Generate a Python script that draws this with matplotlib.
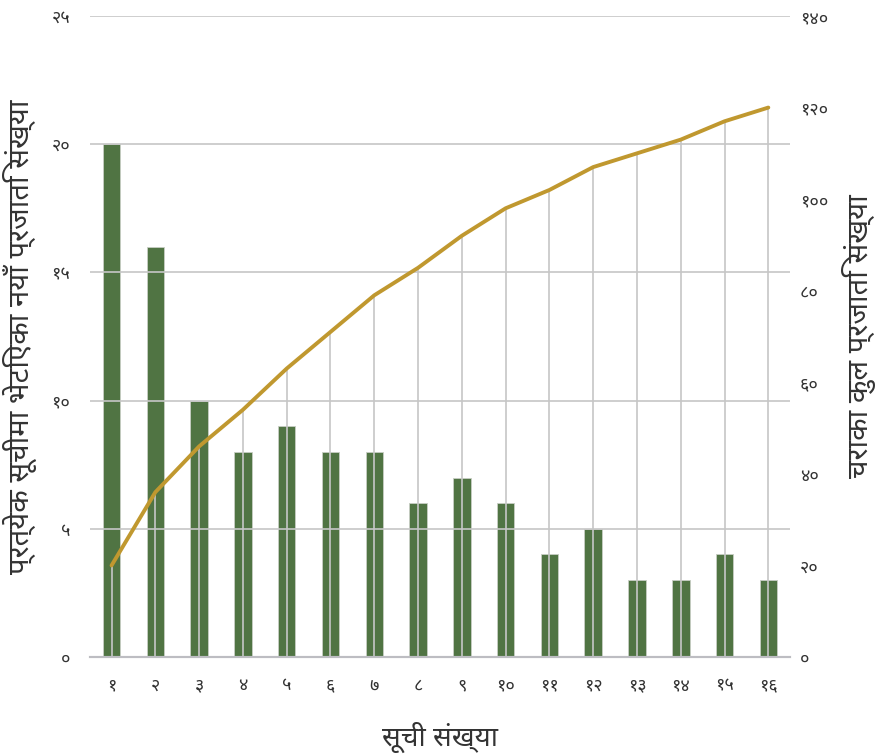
import matplotlib
matplotlib.use("Agg")
import matplotlib.pyplot as plt

# data
lists = list(range(1, 17))
new_species = [20, 16, 10, 8, 9, 8, 8, 6, 7, 6, 4, 5, 3, 3, 4, 3]
total_species = [20, 36, 46, 54, 63, 71, 79, 85, 92, 98, 102, 107, 110, 113, 117, 120]
left_ticks = [0, 5, 10, 15, 20, 25]
right_ticks = [0, 20, 40, 60, 80, 100, 120, 140]

xlabel = 'सूची संख्या'
ylabel_left = 'प्रत्येक सूचीमा भेटिएका नयाँ प्रजाति संख्या'
ylabel_right = 'चराका कुल प्रजाति संख्या'

DIGITS = '०१२३४५६७८९'


def deva(n):
    return ''.join(DIGITS[int(c)] for c in str(n))


plt.rcParams['font.family'] = ['Noto Sans Devanagari', 'DejaVu Sans']

bar_color = '#507443'
line_color = '#C0982F'
grid_color = '#C6C6C6'
text_color = '#333333'

fig = plt.figure(figsize=(8.79, 7.54), dpi=100)
ax = fig.add_axes([0.102, 0.1286, 0.797, 0.8502])
ax2 = ax.twinx()

ax.bar(lists, new_species, width=0.4, color=bar_color, edgecolor='#C8CEC4', linewidth=0.6, zorder=1)
ax.set_ylim(0, 25)
ax.set_yticks(left_ticks)
ax.set_yticklabels([deva(v) for v in left_ticks])
ax.set_xlim(0.5, 16.5)
ax.set_xticks(lists)
ax.set_xticklabels([deva(v) for v in lists])
ax.grid(axis='y', color=grid_color, linewidth=1.2, zorder=2)
ax.set_axisbelow(False)

ax2.vlines(lists, 0, total_species, color=grid_color, linewidth=1.2, zorder=2)
ax2.plot(lists, total_species, color=line_color, linewidth=2.8, solid_capstyle='round', zorder=3)
ax2.set_ylim(0, 140)
ax2.set_yticks(right_ticks)
ax2.set_yticklabels([deva(v) for v in right_ticks])

for a in (ax, ax2):
    for s in ('top', 'left', 'right'):
        a.spines[s].set_visible(False)
    a.spines['bottom'].set_color('#BDBDC2')
    a.spines['bottom'].set_linewidth(1.5)
    a.tick_params(length=0, colors=text_color, labelsize=13)

ax.tick_params(axis='y', pad=14)
ax.tick_params(axis='x', pad=14)
ax2.tick_params(axis='y', pad=7)

ax.set_xlabel(xlabel, fontsize=20, color=text_color, labelpad=20)
ax.set_ylabel(ylabel_left, fontsize=21, color=text_color, labelpad=10)
ax2.set_ylabel(ylabel_right, fontsize=21, color=text_color, labelpad=10)

fig.savefig('out.png', dpi=100)
